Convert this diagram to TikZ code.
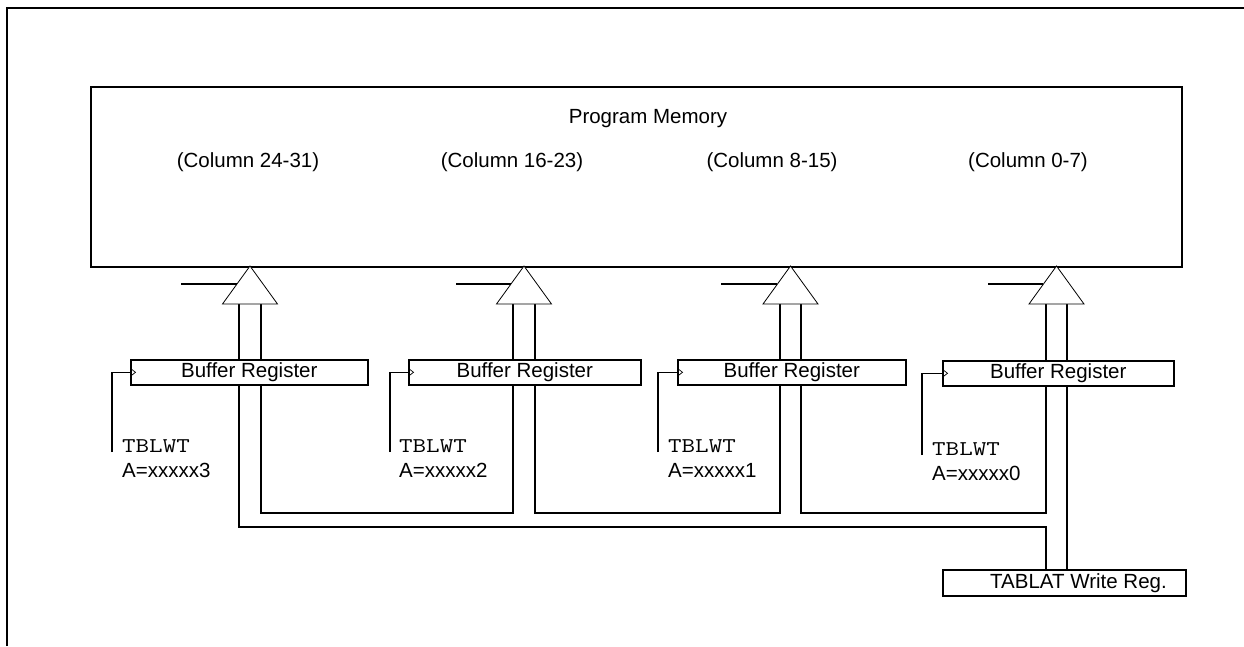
\documentclass[tikz,border=0pt]{standalone}
\usepackage{fontspec}
\usepackage{graphicx}
\setmainfont{Liberation Sans}
\usetikzlibrary{calc}
\newcommand{\tblwtword}{\scalebox{1.25}[1]{\ttfamily\fontsize{21pt}{24pt}\selectfont TBLWT}}
\begin{document}
\begin{tikzpicture}[x=1pt,y=-1pt,
  framelines/.style={line width=2pt},
  membox/.style={draw,line width=1.8pt,inner sep=0pt,anchor=north west,minimum width=1091pt,minimum height=180pt},
  txt/.style={font=\fontsize{20.5pt}{24pt}\selectfont,inner sep=0pt},
  mono/.style={inner sep=0pt,anchor=base west},
  bufbox/.style={draw,line width=1.6pt,inner sep=0pt,minimum height=25pt,anchor=north west,font=\fontsize{20.5pt}{24pt}\selectfont},
  tabbox/.style={draw,line width=1.6pt,inner sep=0pt,minimum height=26pt,minimum width=243pt,font=\fontsize{20.5pt}{24pt}\selectfont},
  bus/.style={line width=1.5pt},
  tri/.style={line width=0.8pt,fill=white,line join=miter},
  enline/.style={line width=1.4pt},
  clk/.style={line width=1.5pt},
  clktip/.style={line width=0.7pt}]
\useasboundingbox (0,0) rectangle (1244,646);
\fill[white] (0,0) rectangle (1244,646);
% outer frame (partial)
\draw[framelines] (7,646) -- (7,8) -- (1244,8);
% program memory
\node[membox] (mem) at (90,86) {};
\node[txt] (pm) at (648,119) {Program Memory};
\node[txt] (c1) at (248,162) {(Column 24-31)};
\node[txt] (c2) at (512,162) {(Column 16-23)};
\node[txt] (c3) at (772,162) {(Column 8-15)};
\node[txt] (c4) at (1028,162) {(Column 0-7)};
% bus levels
\coordinate (yin) at (0,513);
\coordinate (yout) at (0,527);
% TABLAT
\node[tabbox] (tab) at (1064.5,583) {\hspace*{28pt}TABLAT Write Reg.};
% units
\foreach \i/\bl/\bw/\by/\xa/\xb/\ck/\en/\tx/\ty in {
  1/130/237/359/239/261/112/181/122/0,
  2/408/232/359/513/535/390/456/399/0,
  3/677/228/359/780/801/658/721/668/0,
  4/942/231/360/1046/1067/922/988/932/3}{
  \node[bufbox,minimum width=\bw pt] (buf\i) at (\bl,\by) {Buffer Register};
  \pgfmathsetmacro{\c}{(\xa+\xb)/2}
  \coordinate (ap\i) at (\c,266);
  \coordinate (bl\i) at (\c-27.5,304);
  \coordinate (br\i) at (\c+27.5,304);
  \coordinate (ta\i) at (\xa,304);
  \coordinate (tb\i) at (\xb,304);
  % bus lines triangle -> buffer
  \draw[bus] (ta\i) -- (ta\i |- buf\i.north);
  \draw[bus] (tb\i) -- (tb\i |- buf\i.north);
  % triangle driver
  \draw[tri] (ap\i) -- (br\i) -- (bl\i) -- cycle;
  % enable line
  \coordinate (ee\i) at ($(ap\i)!0.474!(bl\i)$);
  \coordinate (es\i) at (\en,0);
  \draw[enline] (es\i |- ee\i) -- (ee\i);
  % clock
  \coordinate (ckb\i) at (\ck,452+\ty);
  \draw[clk] (ckb\i) |- (buf\i.west);
  \draw[clktip] ($(buf\i.west)+(1,-3.5)$) -- ++(4.5,3.5) -- ++(-4.5,3.5);
  % labels
  \node[mono] (tw\i) at (\tx,452+\ty) {\tblwtword};
  \pgfmathtruncatemacro{\n}{4-\i}
  \node[txt,anchor=base west] (ad\i) at (\tx,477+\ty) {A=xxxxx\n};
}
% bus routing below buffers
\draw[bus] (buf1.south -| ta1) -- (ta1 |- yout) -- (ta4 |- yout) -- (tab.north -| ta4);
\draw[bus] (buf1.south -| tb1) -- (tb1 |- yin) -- (ta2 |- yin) -- (buf2.south -| ta2);
\draw[bus] (buf2.south -| tb2) -- (tb2 |- yin) -- (ta3 |- yin) -- (buf3.south -| ta3);
\draw[bus] (buf3.south -| tb3) -- (tb3 |- yin) -- (ta4 |- yin) -- (buf4.south -| ta4);
\draw[bus] (buf4.south -| tb4) -- (tab.north -| tb4);
\end{tikzpicture}
\end{document}
